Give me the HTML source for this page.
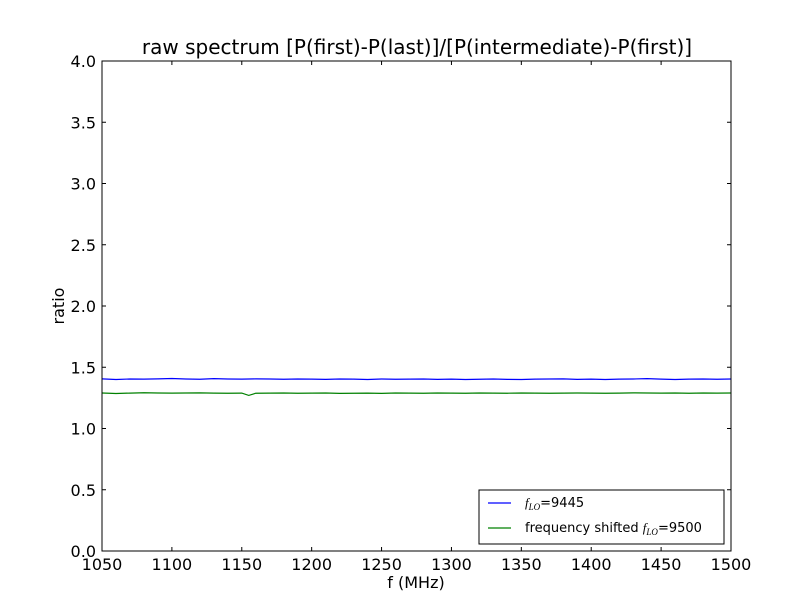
<!DOCTYPE html>
<html><head><meta charset="utf-8"><style>
body{margin:0;background:#fff;font-family:"DejaVu Sans","Liberation Sans",sans-serif}
svg text{font-family:"DejaVu Sans","Liberation Sans",sans-serif}
</style></head><body>
<svg id="c" width="812" height="612" xmlns="http://www.w3.org/2000/svg">
<rect width="812" height="612" fill="#fff"/>
<g id="plot"></g>
<rect x="102" y="61" width="629" height="490" fill="none" stroke="#000" stroke-width="1"/>
<text x="417" y="54" font-size="20" text-anchor="middle">raw spectrum [P(first)-P(last)]/[P(intermediate)-P(first)]</text>
<text x="416" y="588" font-size="16" text-anchor="middle">f (MHz)</text>
<text x="64" y="306" font-size="16" text-anchor="middle" transform="rotate(-90 64 306)">ratio</text>
<g>
<rect x="479" y="490" width="245" height="54" fill="#fff" stroke="#000" stroke-width="1"/>
<line x1="488" y1="503" x2="511" y2="503" stroke="#0000ff" stroke-width="1.2"/>
<text x="525" y="507" font-size="13"><tspan font-style="italic" font-family="Liberation Serif,serif">f</tspan><tspan font-size="9" font-style="italic" font-family="Liberation Serif,serif" dy="3">LO</tspan><tspan dy="-3">=9445</tspan></text>
<line x1="488" y1="528" x2="511" y2="528" stroke="#008000" stroke-width="1.2"/>
<text x="525" y="532" font-size="13">frequency shifted <tspan font-style="italic" font-family="Liberation Serif,serif">f</tspan><tspan font-size="9" font-style="italic" font-family="Liberation Serif,serif" dy="3">LO</tspan><tspan dy="-3">=9500</tspan></text>
</g>
</svg>
<script>
const freqs=[1050,1060,1070,1080,1090,1100,1110,1120,1130,1140,1150,1155,1160,1170,1180,1190,1200,1210,1220,1230,1240,1250,1260,1270,1280,1290,1300,1310,1320,1330,1340,1350,1360,1370,1380,1390,1400,1410,1420,1430,1440,1450,1460,1470,1480,1490,1500];
const blueVals=[1.405,1.400,1.404,1.403,1.405,1.408,1.404,1.402,1.407,1.404,1.403,1.404,1.405,1.404,1.402,1.404,1.403,1.401,1.404,1.403,1.400,1.404,1.402,1.403,1.404,1.401,1.403,1.400,1.402,1.404,1.401,1.400,1.403,1.404,1.405,1.401,1.403,1.400,1.403,1.404,1.407,1.403,1.400,1.403,1.404,1.402,1.404];
const greenVals=[1.290,1.286,1.289,1.292,1.290,1.289,1.290,1.291,1.289,1.288,1.289,1.270,1.288,1.289,1.290,1.288,1.289,1.290,1.287,1.288,1.289,1.287,1.290,1.289,1.288,1.290,1.289,1.288,1.290,1.289,1.288,1.290,1.289,1.288,1.289,1.290,1.289,1.288,1.289,1.291,1.290,1.289,1.290,1.288,1.290,1.289,1.290];
const xTicks=[1050,1100,1150,1200,1250,1300,1350,1400,1450,1500];
const yTicks=[0,0.5,1,1.5,2,2.5,3,3.5,4];
const X0=102,X1=731,Y0=551,Y1=61;
const xs=v=>X0+(v-1050)/(1500-1050)*(X1-X0);
const ys=v=>Y0-(v-0)/(4-0)*(Y0-Y1);
const NS="http://www.w3.org/2000/svg";
const g=document.getElementById('plot');
function mk(t,a){const e=document.createElementNS(NS,t);for(const k in a)e.setAttribute(k,a[k]);g.appendChild(e);return e;}
xTicks.forEach(v=>{const x=xs(v);
 const t1=mk('line',{x1:x,x2:x,y1:Y0,y2:Y0-4,stroke:'#000'});
 
 
 const t2=mk('line',{x1:x,x2:x,y1:Y1,y2:Y1+4,stroke:'#000'});
 
 
 const l=mk('text',{x:x,y:Y0+19,'font-size':16,'text-anchor':'middle'});l.textContent=v;
 
 
});
yTicks.forEach(v=>{const y=ys(v);
 const t1=mk('line',{x1:X0,x2:X0+4,y1:y,y2:y,stroke:'#000'});
 
 
 const t2=mk('line',{x1:X1,x2:X1-4,y1:y,y2:y,stroke:'#000'});
 
 
 const l=mk('text',{x:X0-6,y:y+6,'font-size':16,'text-anchor':'end'});l.textContent=v.toFixed(1);
 
 
});
function line(vals,col,name){
 const p=mk('polyline',{points:freqs.map((f,i)=>xs(f)+','+ys(vals[i])).join(' '),fill:'none',stroke:col,'stroke-width':1.2});
 
 
}
line(blueVals,'#0000ff','series-9445');
line(greenVals,'#008000','series-9500-shifted');
</script>
</body></html>
